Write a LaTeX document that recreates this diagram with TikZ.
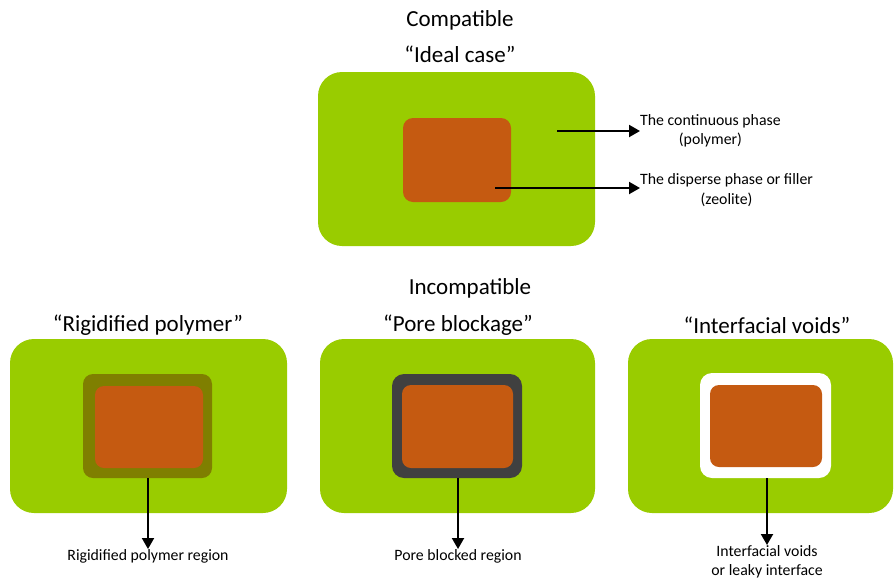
\documentclass[tikz,border=0pt]{standalone}
\usepackage{fontspec}
\setmainfont{Carlito}
\usetikzlibrary{arrows.meta}
\definecolor{lgreen}{HTML}{99CC00}
\definecolor{zorange}{HTML}{C55A11}
\definecolor{olivering}{HTML}{7F7F00}
\definecolor{darkring}{HTML}{404040}
\tikzset{
  box/.style={inner sep=0pt, outer sep=0pt, rounded corners=#1},
  greenbox/.style={box=24pt, fill=lgreen, minimum width=277pt, minimum height=174pt},
  heading/.style={font=\fontsize{23}{27}\selectfont, inner sep=0pt},
  small/.style={font=\fontsize{15.8}{19.5}\selectfont, inner sep=0pt, align=center},
  arr/.style={line width=2pt, -{Triangle[length=11pt,width=12pt]}},
}
\begin{document}
\begin{tikzpicture}[x=1pt,y=-1pt]
\useasboundingbox (0,0) rectangle (894,584);

% top
\node[heading] (compat) at (460,20) {Compatible};
\node[heading] (ideal) at (460,54) {“Ideal case”};
\node[greenbox] (g1) at (456.5,159) {};
\node[box=10pt, fill=zorange, minimum width=108pt, minimum height=84pt] (o1) at (457,160) {};
\coordinate (s1) at (557,131);
\coordinate (s2) at (495,188);
\node[small, anchor=west] (l1) at (640,131) {The continuous phase\\(polymer)};
\node[small, anchor=west] (l2) at (640,190) {The disperse phase or filler\\(zeolite)};
\draw[arr] (s1) -- (s1 -| l1.west);
\draw[arr] (s2) -- (s2 -| l2.west);

\node[heading] (incompat) at (470,288) {Incompatible};

% bottom left
\node[heading] (t1) at (148,325) {“Rigidified polymer”};
\node[greenbox] (g2) at (148.5,426) {};
\node[box=10pt, fill=olivering, minimum width=129pt, minimum height=104pt] (r2) at (147.5,426) {};
\node[box=9pt, fill=zorange, minimum width=108pt, minimum height=82pt] (o2) at (149,427) {};
\node[small, anchor=north] (b1) at (148,549) {Rigidified polymer region};
\draw[arr] (r2.south -| b1.north) -- (b1.north);

% bottom middle
\node[heading] (t2) at (458,325) {“Pore blockage”};
\node[greenbox, minimum width=275pt] (g3) at (457.5,426) {};
\node[box=12pt, fill=darkring, minimum width=130pt, minimum height=104pt] (r3) at (457,426) {};
\node[box=9pt, fill=zorange, minimum width=111pt, minimum height=83pt] (o3) at (457.5,426.5) {};
\node[small, anchor=north] (b2) at (458,549) {Pore blocked region};
\draw[arr] (r3.south -| b2.north) -- (b2.north);

% bottom right
\node[heading] (t3) at (767,325) {“Interfacial voids”};
\node[greenbox, minimum width=265pt] (g4) at (760.5,426) {};
\node[box=12pt, fill=white, minimum width=131pt, minimum height=105pt] (r4) at (765.5,425.5) {};
\node[box=9pt, fill=zorange, minimum width=112pt, minimum height=82pt] (o4) at (766,426) {};
\node[small, anchor=north] (b3) at (767,545) {Interfacial voids\\or leaky interface};
\draw[arr] (r4.south -| b3.north) -- (b3.north);
\end{tikzpicture}
\end{document}
